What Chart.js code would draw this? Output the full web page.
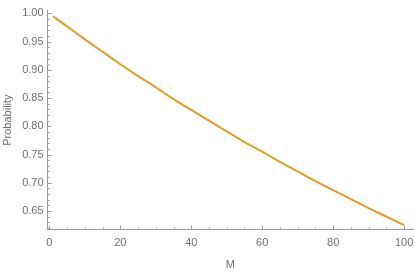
<!DOCTYPE html>
<html lang="en">
<head>
    <meta charset="UTF-8">
    <title>Probability vs M</title>
    <script src="https://cdn.jsdelivr.net/npm/chart.js"></script>
    <style>
        body { margin: 0; background: #fff; }
        #wrap { width: 415px; height: 272px; }
    </style>
</head>
<body>
    <div id="wrap"><canvas id="myChart"></canvas></div>
    <script>
        // values
        const mValues = [1, 5, 10, 15, 20, 25, 30, 35, 40, 45, 50, 55, 60, 65, 70, 75, 80, 85, 90, 95, 100];
        const probValues = [0.995, 0.977, 0.954, 0.932, 0.910, 0.889, 0.869, 0.848, 0.829, 0.810, 0.791,
                            0.772, 0.755, 0.737, 0.720, 0.703, 0.687, 0.671, 0.655, 0.640, 0.625];
        const xTicks = [0, 20, 40, 60, 80, 100];
        const yTicks = [0.65, 0.70, 0.75, 0.80, 0.85, 0.90, 0.95, 1.00];

        const axisGray = '#9a9a9a';
        const labelGray = '#6f6f6f';
        const font = { family: '"Liberation Sans", Arial, sans-serif', size: 11 };

        // mathematica style inward ticks, major + minor
        const inwardTicks = {
            id: 'inwardTicks',
            afterDraw(chart) {
                const ctx = chart.ctx;
                const xs = chart.scales.x, ys = chart.scales.y;
                const area = chart.chartArea;
                ctx.save();
                ctx.strokeStyle = axisGray;
                ctx.lineWidth = 1;
                ctx.beginPath();
                for (let v = 0; v <= 100; v += 5) {
                    const px = Math.round(xs.getPixelForValue(v)) + 0.5;
                    const len = v % 20 === 0 ? 4 : 2;
                    ctx.moveTo(px, area.bottom);
                    ctx.lineTo(px, area.bottom - len);
                }
                for (let i = 62; i <= 100; i++) {
                    const py = Math.round(ys.getPixelForValue(i / 100)) + 0.5;
                    const len = i % 5 === 0 ? 4 : 2;
                    ctx.moveTo(area.left, py);
                    ctx.lineTo(area.left + len, py);
                }
                ctx.stroke();
                ctx.restore();
            }
        };

        const ctx = document.getElementById('myChart').getContext('2d');
        new Chart(ctx, {
            type: 'line',
            data: {
                datasets: [{
                    data: mValues.map((m, i) => ({ x: m, y: probValues[i] })),
                    borderColor: '#e19c24',
                    borderWidth: 2,
                    pointRadius: 0,
                    tension: 0.4,
                    fill: false
                }]
            },
            options: {
                responsive: true,
                maintainAspectRatio: false,
                animation: false,
                layout: { padding: { top: 5, right: 2, bottom: 0, left: 1 } },
                plugins: { legend: { display: false }, tooltip: { enabled: false } },
                scales: {
                    x: {
                        type: 'linear',
                        min: -0.5,
                        max: 102.5,
                        afterBuildTicks: s => { s.ticks = xTicks.map(v => ({ value: v })); },
                        // let the last label hang to the edge instead of shrinking the plot
                        afterFit: s => { s.paddingLeft = 0; s.paddingRight = 0; },
                        grid: { display: false, drawTicks: false },
                        border: { display: true, color: axisGray, width: 1 },
                        ticks: { font: font, color: labelGray, padding: 7, maxRotation: 0 },
                        title: { display: true, text: 'M', font: font, color: labelGray, padding: { top: 2, bottom: 0 } }
                    },
                    y: {
                        min: 0.617,
                        max: 1.005,
                        afterBuildTicks: s => { s.ticks = yTicks.map(v => ({ value: v })); },
                        grid: { display: false, drawTicks: false },
                        border: { display: true, color: axisGray, width: 1 },
                        ticks: { font: font, color: labelGray, padding: 4, callback: v => v.toFixed(2) },
                        title: { display: true, text: 'Probability', font: font, color: labelGray, padding: { top: 0, bottom: 4 } }
                    }
                }
            },
            plugins: [inwardTicks]
        });
    </script>
</body>
</html>
